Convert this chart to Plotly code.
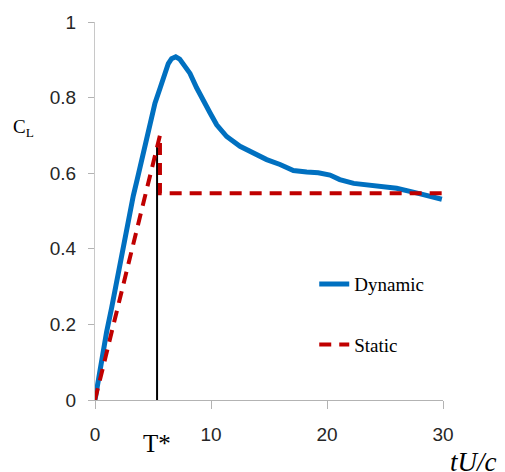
import plotly.graph_objects as go

# Dynamic lift coefficient
dyn_t = [0, 0.29, 0.57, 1.0, 1.44, 1.81, 2.16, 2.53, 2.96, 3.30, 3.65, 4.0, 4.35,
         4.75, 5.17, 5.60, 5.95, 6.32, 6.6, 6.96, 7.3, 7.61, 8.19, 8.76, 9.3, 9.91,
         10.49, 11.35, 12.5, 13.65, 14.8, 15.95, 17.1, 18.25, 19.25, 20.26, 21.1,
         22.3, 24.3, 26.0, 27.7, 28.9, 29.9]
dyn_cl = [0.0, 0.058, 0.115, 0.180, 0.245, 0.305, 0.365, 0.425, 0.487, 0.540, 0.585,
          0.630, 0.680, 0.735, 0.785, 0.824, 0.860, 0.890, 0.903, 0.908, 0.902, 0.890,
          0.864, 0.826, 0.792, 0.760, 0.728, 0.697, 0.671, 0.653, 0.636, 0.623, 0.607,
          0.603, 0.601, 0.595, 0.583, 0.573, 0.566, 0.560, 0.548, 0.539, 0.531]

# Static lift coefficient
sta_t = [0, 5.6, 5.6, 30]
sta_cl = [0.0, 0.70, 0.547, 0.547]

# T* marker
tstar_t = [5.35, 5.35]
tstar_cl = [0.0, 0.676]

x_ticks = [0, 10, 20, 30]
y_ticks = [0, 0.2, 0.4, 0.6, 0.8, 1]
y_tick_text = ["0", "0.2", "0.4", "0.6", "0.8", "1"]

tick_font = dict(family="Liberation Sans Narrow, Arial Narrow, Liberation Sans, Arial", size=19, color="#262626")
serif = "Liberation Serif, Times New Roman, serif"

fig = go.Figure()
fig.add_trace(go.Scatter(x=tstar_t, y=tstar_cl, mode="lines",
                         line=dict(color="black", width=2), showlegend=False, hoverinfo="skip"))
fig.add_trace(go.Scatter(x=dyn_t, y=dyn_cl, mode="lines", name="Dynamic", legendgroup="a",
                         line=dict(color="#0070C0", width=5)))
fig.add_trace(go.Scatter(x=sta_t, y=sta_cl, mode="lines", name="Static", legendgroup="b",
                         line=dict(color="#C00000", width=4, dash="12px,8px")))

fig.update_layout(
    width=505, height=472,
    margin=dict(l=95, r=62, t=20, b=72),
    paper_bgcolor="white", plot_bgcolor="white",
    showlegend=True,
    legend=dict(x=0.63, y=0.357, xanchor="left", yanchor="top",
                font=dict(family=serif, size=19, color="black"),
                tracegroupgap=33, bgcolor="rgba(0,0,0,0)", itemwidth=30),
    xaxis=dict(range=[0, 30], tickvals=x_ticks, showgrid=False, zeroline=False,
               showline=True, linecolor="#b3b3b3", linewidth=1,
               ticks="outside", ticklen=8, tickcolor="#b3b3b3",
               ticklabelstandoff=9, tickfont=tick_font),
    yaxis=dict(range=[0, 1], tickvals=y_ticks, ticktext=y_tick_text, showgrid=False,
               zeroline=False, showline=True, linecolor="#c8c8c8", linewidth=1,
               ticks="outside", ticklen=6, tickcolor="#b3b3b3",
               ticklabelstandoff=8, tickfont=tick_font),
    annotations=[
        dict(text="C<sub>L</sub>", xref="paper", yref="paper", x=-0.24, y=0.72,
             xanchor="left", yanchor="middle", showarrow=False,
             font=dict(family=serif, size=19, color="black")),
        dict(text="T*", xref="x", yref="paper", x=5.35, y=-0.115,
             xanchor="center", yanchor="middle", showarrow=False,
             font=dict(family=serif, size=25, color="black")),
        dict(text="<i>tU/c</i>", xref="paper", yref="paper", x=1.16, y=-0.165,
             xanchor="right", yanchor="middle", showarrow=False,
             font=dict(family=serif, size=27, color="black")),
        dict(text="是力", xref="paper", yref="paper", x=-0.275, y=1.095,
             xanchor="left", yanchor="middle", showarrow=False,
             font=dict(family="Noto Sans CJK SC", size=22, color="black")),
    ],
)

fig.write_html("out.html")
